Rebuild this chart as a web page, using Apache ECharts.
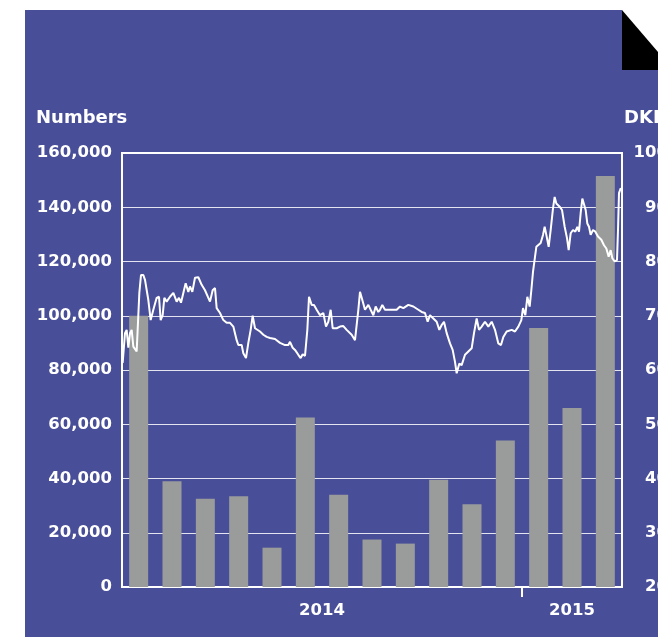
<!DOCTYPE html>
<html>
<head>
<meta charset="utf-8">
<title>Numbers and share price</title>
<script src="https://cdn.jsdelivr.net/npm/echarts@6/dist/echarts.min.js"></script>
<style>
    html, body { margin: 0; padding: 0; background: #fff; }
    #chart { width: 658px; height: 637px; }
</style>
</head>
<body>
<div id="chart"></div>
<script>
// months shown as bars (Jan 2014 - Mar 2015)
var months = ['2014-01', '2014-02', '2014-03', '2014-04', '2014-05', '2014-06', '2014-07', '2014-08',
    '2014-09', '2014-10', '2014-11', '2014-12', '2015-01', '2015-02', '2015-03'];

// monthly numbers (left axis)
var numbers = [100000, 39000, 32500, 33500, 14500, 62500, 34000, 17500,
    16000, 39500, 30500, 54000, 95500, 66000, 151500];

// share price in DKK (right axis), [months since 1 Jan 2014, price]
var sharePrice = [
    [0.02, 61.3], [0.09, 66.8], [0.14, 67.4], [0.19, 64.1], [0.24, 66.8], [0.29, 67.4], [0.34, 64.3],
    [0.44, 63.4], [0.52, 74.2], [0.57, 77.5], [0.64, 77.5], [0.69, 76.6], [0.74, 76.6], [0.79, 72.9],
    [0.86, 69.2], [0.94, 71.1], [1.04, 73.3], [1.11, 73.5], [1.16, 69.2], [1.22, 70.1], [1.27, 73.3],
    [1.34, 72.6], [1.44, 73.5], [1.54, 74.2], [1.64, 72.6], [1.71, 73.3], [1.77, 72.4], [1.84, 74.2],
    [1.91, 76.0], [1.99, 74.4], [2.04, 75.4], [2.11, 74.4], [2.19, 77.0], [2.29, 77.1], [2.39, 75.7],
    [2.49, 74.7], [2.59, 73.3], [2.64, 72.6], [2.72, 74.7], [2.79, 75.1], [2.84, 71.4], [2.94, 70.5],
    [3.04, 69.2], [3.14, 68.7], [3.24, 68.7], [3.34, 68.0], [3.44, 65.5], [3.49, 64.6], [3.59, 64.6],
    [3.64, 63.1], [3.72, 62.2], [3.79, 65.0], [3.86, 67.4], [3.92, 70.0], [3.99, 67.7], [4.04, 67.4],
    [4.14, 67.1], [4.24, 66.5], [4.34, 66.1], [4.44, 65.9], [4.59, 65.7], [4.74, 65.0], [4.89, 64.6],
    [4.99, 64.6], [5.04, 65.2], [5.12, 64.1], [5.19, 63.7], [5.29, 62.8], [5.36, 62.2], [5.42, 62.9],
    [5.49, 62.6], [5.56, 67.4], [5.61, 73.5], [5.69, 72.0], [5.76, 72.0], [5.84, 71.1], [5.94, 70.1],
    [6.04, 70.5], [6.12, 68.0], [6.19, 68.9], [6.26, 71.1], [6.32, 67.7], [6.44, 67.7], [6.54, 68.0],
    [6.64, 68.1], [6.74, 67.4], [6.89, 66.5], [6.99, 65.5], [7.09, 71.1], [7.14, 74.4], [7.21, 72.9],
    [7.29, 71.1], [7.39, 72.0], [7.46, 71.1], [7.54, 70.1], [7.61, 71.7], [7.69, 70.7], [7.74, 71.1],
    [7.81, 72.0], [7.89, 71.1], [8.04, 71.1], [8.24, 71.1], [8.34, 71.7], [8.44, 71.4], [8.59, 72.0],
    [8.74, 71.7], [8.89, 71.1], [8.99, 70.7], [9.09, 70.5], [9.17, 68.9], [9.24, 70.1], [9.34, 69.5],
    [9.44, 68.9], [9.52, 67.4], [9.59, 68.3], [9.66, 68.9], [9.74, 66.8], [9.84, 64.9], [9.92, 63.7],
    [9.99, 61.5], [10.04, 59.4], [10.12, 61.2], [10.19, 60.9], [10.29, 62.8], [10.39, 63.4], [10.49, 64.0],
    [10.56, 66.8], [10.64, 69.5], [10.71, 67.4], [10.79, 68.0], [10.89, 68.9], [10.99, 68.0], [11.09, 68.9],
    [11.19, 67.4], [11.29, 64.9], [11.37, 64.6], [11.44, 66.1], [11.54, 67.1], [11.69, 67.4], [11.79, 67.1],
    [11.89, 68.0], [11.98, 69.2], [12.03, 71.4], [12.10, 70.1], [12.16, 73.5], [12.23, 71.7], [12.28, 74.7],
    [12.33, 78.1], [12.38, 78.4], [12.43, 82.7], [12.48, 83.0], [12.56, 83.4], [12.63, 84.9], [12.68, 86.4],
    [12.73, 84.9], [12.80, 82.7], [12.86, 85.8], [12.93, 89.8], [12.98, 91.9], [13.03, 90.7], [13.08, 91.0],
    [13.13, 90.1], [13.20, 89.5], [13.28, 86.4], [13.35, 84.3], [13.40, 82.1], [13.46, 85.2], [13.53, 85.8],
    [13.60, 85.5], [13.66, 86.4], [13.71, 85.5], [13.76, 88.9], [13.81, 91.6], [13.86, 91.9], [13.91, 89.5],
    [13.96, 87.0], [14.01, 86.4], [14.06, 84.9], [14.13, 85.8], [14.20, 85.5], [14.28, 84.6], [14.38, 84.0],
    [14.46, 83.0], [14.53, 82.4], [14.60, 80.9], [14.66, 82.1], [14.71, 80.6], [14.78, 80.0], [14.85, 80.3],
    [14.88, 85.8], [14.91, 92.6], [14.96, 93.5], [15.00, 93.2]
];

var purple = '#484e97';
var font = 'DejaVu Sans';

// year label sits in the middle of its months, tick at the start of each new year
var years = [];
var yearMid = [];
var yearStart = [];
months.forEach(function(m, i) {
    var y = m.slice(0, 4);
    if (years.indexOf(y) < 0) {
        years.push(y);
        if (i > 0) yearStart.push(i);
    }
});
years.forEach(function(y) {
    var first = -1, last = -1;
    months.forEach(function(m, i) {
        if (m.slice(0, 4) === y) {
            if (first < 0) first = i;
            last = i;
        }
    });
    yearMid.push((first + last + 1) / 2);
});

var chart = echarts.init(document.getElementById('chart'));

var labelStyle = {
    color: '#fff',
    fontFamily: font,
    fontWeight: 'bold',
    fontSize: 16.5
};

var option = {
    backgroundColor: '#fff',
    animation: false,
    graphic: [
        {
            type: 'polygon',
            z: -10,
            silent: true,
            shape: { points: [[25, 10], [622, 10], [622, 70], [658, 70], [658, 637], [25, 637]] },
            style: { fill: purple }
        },
        {
            type: 'polygon',
            z: -9,
            silent: true,
            shape: { points: [[622, 10], [658, 52], [658, 70], [622, 70]] },
            style: { fill: '#000' }
        }
    ],
    title: [
        {
            text: 'Numbers',
            left: 36,
            top: 109,
            padding: 0,
            textStyle: { color: '#fff', fontFamily: font, fontWeight: 'bold', fontSize: 18 }
        },
        {
            text: 'DKK',
            left: 624,
            top: 109,
            padding: 0,
            textStyle: { color: '#fff', fontFamily: font, fontWeight: 'bold', fontSize: 18 }
        }
    ],
    grid: {
        left: 122,
        right: 36,
        top: 153,
        bottom: 50,
        outerBoundsMode: 'none',
        show: true,
        borderColor: '#fff',
        borderWidth: 2,
        backgroundColor: 'transparent'
    },
    xAxis: [
        {
            type: 'category',
            data: months,
            axisLine: { lineStyle: { color: '#fff', width: 2 } },
            axisTick: { show: false },
            axisLabel: { show: false },
            splitLine: { show: false }
        },
        {
            // same span as the months, carries the year labels and the year tick
            type: 'value',
            min: 0,
            max: months.length,
            position: 'bottom',
            axisLine: { show: false },
            axisTick: {
                show: true,
                customValues: yearStart,
                length: 10,
                lineStyle: { color: '#fff', width: 2 }
            },
            splitLine: { show: false },
            axisLabel: Object.assign({
                margin: 15,
                customValues: yearMid,
                formatter: function(v) {
                    for (var i = 0; i < yearMid.length; i++) {
                        if (Math.abs(yearMid[i] - v) < 0.01) return years[i];
                    }
                    return '';
                }
            }, labelStyle)
        }
    ],
    yAxis: [
        {
            type: 'value',
            min: 0,
            max: 160000,
            interval: 20000,
            axisLine: { show: true, lineStyle: { color: '#fff', width: 2 } },
            axisTick: { show: false },
            splitLine: { lineStyle: { color: 'rgba(255,255,255,0.85)', width: 1 } },
            axisLabel: Object.assign({
                margin: 10,
                formatter: function(v) { return v.toLocaleString('en-US'); }
            }, labelStyle)
        },
        {
            type: 'value',
            min: 20,
            max: 100,
            interval: 10,
            position: 'right',
            axisLine: { show: true, lineStyle: { color: '#fff', width: 2 } },
            axisTick: { show: false },
            splitLine: { show: false },
            axisLabel: Object.assign({
                margin: 46,
                align: 'right'
            }, labelStyle)
        }
    ],
    series: [
        {
            name: 'Numbers',
            type: 'bar',
            xAxisIndex: 0,
            yAxisIndex: 0,
            data: numbers,
            barWidth: 19,
            itemStyle: { color: '#9a9b9b' }
        },
        {
            name: 'Share price',
            type: 'line',
            xAxisIndex: 1,
            yAxisIndex: 1,
            data: sharePrice,
            showSymbol: false,
            lineStyle: { color: '#fff', width: 2 }
        }
    ]
};

chart.setOption(option);
</script>
</body>
</html>
